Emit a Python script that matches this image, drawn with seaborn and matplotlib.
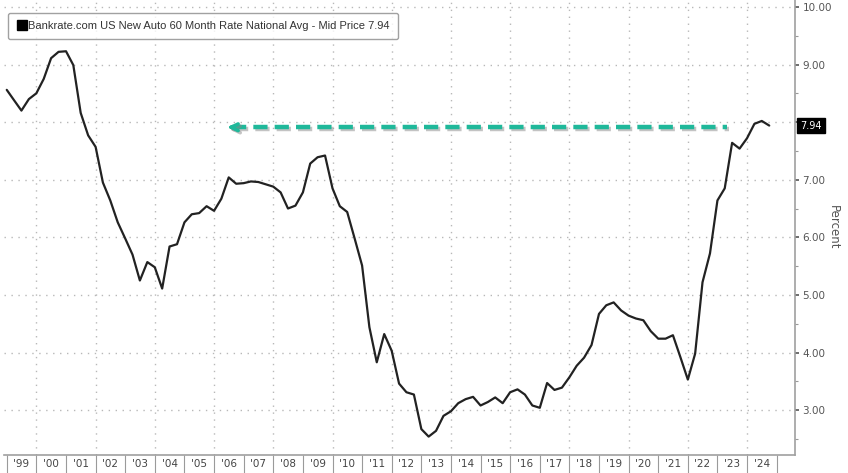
import numpy as np
import pandas as pd
import matplotlib
matplotlib.use("Agg")
import matplotlib.pyplot as plt
import matplotlib.dates as mdates
import matplotlib.patheffects as pe
from matplotlib.lines import Line2D
import seaborn as sns

# Quarterly readings, Q1 1999 .. Q3 2024 (percent)
rates = [
    8.56, 8.38, 8.20, 8.40, 8.50, 8.75, 9.11, 9.22, 9.23, 8.99,
    8.16, 7.77, 7.57, 6.95, 6.64, 6.26, 5.98, 5.70, 5.25, 5.57,
    5.48, 5.11, 5.84, 5.88, 6.26, 6.40, 6.42, 6.54, 6.46, 6.67,
    7.04, 6.93, 6.94, 6.97, 6.96, 6.92, 6.88, 6.78, 6.50, 6.55,
    6.78, 7.28, 7.39, 7.42, 6.85, 6.54, 6.44, 5.98, 5.51, 4.44,
    3.83, 4.32, 4.03, 3.46, 3.31, 3.27, 2.67, 2.54, 2.64, 2.90,
    2.98, 3.12, 3.19, 3.23, 3.08, 3.14, 3.22, 3.12, 3.31, 3.36,
    3.27, 3.08, 3.04, 3.47, 3.35, 3.39, 3.57, 3.77, 3.91, 4.13,
    4.67, 4.82, 4.87, 4.73, 4.64, 4.59, 4.56, 4.37, 4.24, 4.24,
    4.30, 3.92, 3.53, 3.98, 5.22, 5.72, 6.64, 6.85, 7.64, 7.54,
    7.72, 7.97, 8.02, 7.94,
]
dates = pd.date_range("1999-01-01", periods=len(rates), freq="QS")
df = pd.DataFrame({"date": dates, "rate": rates})

last_value = 7.94
arrow_level = 7.91
arrow_start = pd.Timestamp("2023-05-01")
arrow_end = pd.Timestamp("2006-06-15")
label_years = list(range(1999, 2025))
y_ticks = [3, 4, 5, 6, 7, 8, 9, 10]

legend_text = "Bankrate.com US New Auto 60 Month Rate National Avg - Mid Price 7.94"
teal = "#1fb89a"
grid_col = "#b8b8b8"

sns.set_theme(style="white")
plt.rcParams["font.family"] = ["DejaVu Sans"]

fig = plt.figure(figsize=(8.48, 4.73), dpi=100)
ax = fig.add_axes([0.005, 0.038, 0.933, 0.962])

# gridlines: every two years, every whole percent
for d in pd.date_range("2000-01-01", "2024-01-01", freq="2YS"):
    ax.axvline(d, color=grid_col, lw=1.0, ls=(0, (1, 4)), zorder=0)
for v in y_ticks:
    ax.axhline(v, color=grid_col, lw=1.0, ls=(0, (1, 4)), zorder=0)

sns.lineplot(data=df, x="date", y="rate", ax=ax, color="#222222", lw=1.6)

# teal dashed arrow with shadow
shadow = [pe.SimpleLineShadow(offset=(1.5, -1.5), shadow_color="#888888", alpha=0.5), pe.Normal()]
ax.plot([arrow_end + pd.Timedelta(days=60), arrow_start], [arrow_level, arrow_level],
        color=teal, lw=3.2, ls=(0, (3.2, 1.6)), solid_capstyle="butt",
        path_effects=shadow, zorder=3)
ax.annotate("", xy=(arrow_end, arrow_level),
            xytext=(arrow_end + pd.Timedelta(days=90), arrow_level),
            arrowprops=dict(arrowstyle="->", color=teal, lw=2.6,
                            mutation_scale=12, shrinkA=0, shrinkB=0,
                            path_effects=shadow), zorder=3)

ax.set_xlim(pd.Timestamp("1998-12-01"), pd.Timestamp("2025-08-20"))
ax.set_ylim(2.22, 10.12)

# x axis: separators at each year, labels mid-year
ax.xaxis.set_major_locator(mdates.YearLocator())
ax.xaxis.set_major_formatter(plt.NullFormatter())
mid_years = [mdates.date2num(pd.Timestamp(y, 7, 1)) for y in label_years]
ax.set_xticks(mid_years, minor=True)
ax.set_xticklabels(["'%02d" % (y % 100) for y in label_years], minor=True)
ax.tick_params(axis="x", which="major", length=14, width=0.8, color="#9a9a9a",
               direction="out", bottom=True)
ax.tick_params(axis="x", which="minor", length=0, labelsize=7.5,
               labelcolor="#444444", pad=3, bottom=True)

# y axis on right (8.00 hidden behind the last-value tag)
ax.yaxis.tick_right()
ax.yaxis.set_label_position("right")
ax.set_yticks(y_ticks)
ax.set_yticklabels(["" if v == 8 else "%.2f" % v for v in y_ticks])
ax.set_yticks(np.arange(2.5, 10.0, 1.0), minor=True)
ax.tick_params(axis="y", which="major", length=3, width=1.2, color="#555555",
               labelsize=7.5, labelcolor="#555555", pad=2, right=True)
ax.tick_params(axis="y", which="minor", length=2, width=0.8, color="#999999", right=True)
ax.set_ylabel("Percent", rotation=270, labelpad=6, fontsize=8.5, color="#555555")
ax.set_xlabel("")

for side in ["top", "left"]:
    ax.spines[side].set_visible(False)
for side in ["right", "bottom"]:
    ax.spines[side].set_color("#a0a0a0")
    ax.spines[side].set_linewidth(1.2)

# last value tag
ax.text(1.006, last_value, "%.2f" % last_value, transform=ax.get_yaxis_transform(),
        ha="left", va="center", fontsize=7, color="white",
        bbox=dict(boxstyle="square,pad=0.3", fc="black", ec="black"))

# legend
handle = Line2D([], [], marker="s", color="black", ls="none", markersize=7.5)
leg = ax.legend([handle], [legend_text], loc="upper left", bbox_to_anchor=(0.005, 0.972),
                prop={"family": "Liberation Sans", "size": 8}, frameon=True, fancybox=True,
                handletextpad=0.15, handlelength=0.9, borderpad=0.75, borderaxespad=0)
leg.get_frame().set_edgecolor("#8a8a8a")
leg.get_frame().set_linewidth(1.0)
for t in leg.get_texts():
    t.set_color("#333333")

fig.savefig("out.png", dpi=100)
